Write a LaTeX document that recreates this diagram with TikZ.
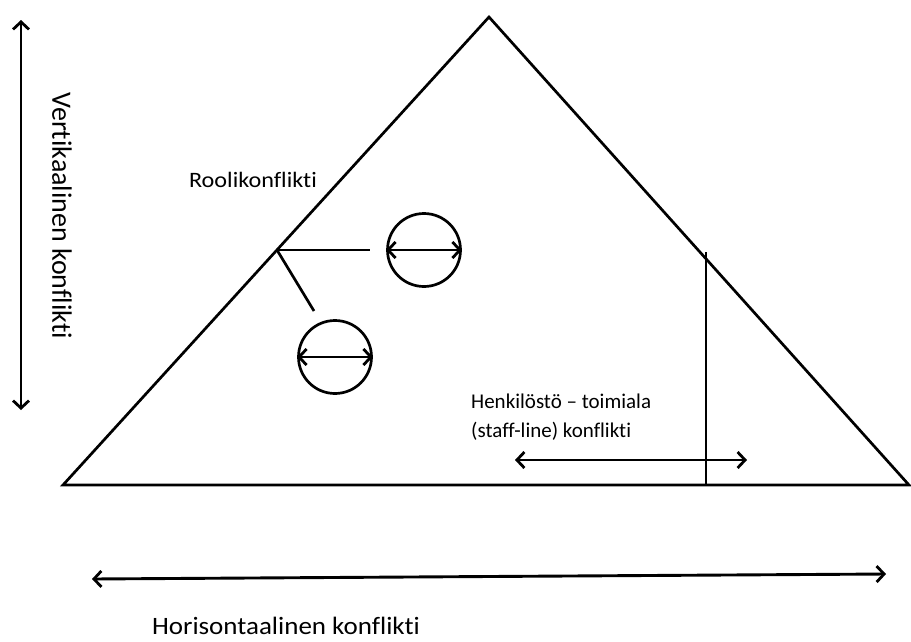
\documentclass[tikz,border=0pt]{standalone}
\usepackage{fontspec}
\setmainfont[RawFeature={-liga;-clig;-calt;-dlig}]{Carlito}
\usetikzlibrary{arrows.meta}
\begin{document}
\begin{tikzpicture}[x=1pt,y=-1pt,
  >={Straight Barb[length=7.5pt,width=16pt,line width=2.8pt]},
  line/.style={line width=2.7pt,black},
  dbl/.style={line width=2.9pt,<->},
  ring/.style={circle,draw,line width=2.7pt,minimum size=73pt,inner sep=0pt},
  lbl/.style={inner sep=0pt}]
\useasboundingbox (0,0) rectangle (911,641);
% pyramid
\coordinate (apex) at (489,17);
\coordinate (bl) at (63,485);
\coordinate (br) at (909,485);
\draw[line,line join=miter] (bl) -- (apex) -- (br) -- cycle;
% staff-line divider
\coordinate (st) at (706,252);
\coordinate (sb) at (706,485);
\draw[line] (st) -- (sb);
% role conflict branches
\coordinate (j) at (277,250);
\coordinate (jr) at (370,250);
\coordinate (jd) at (314,311);
\draw[line] (j) -- (jr);
\draw[line] (j) -- (jd);
\node[ring] (c1) at (424,250) {};
\node[ring] (c2) at (335,357) {};
\draw[dbl] (c1.west) -- (c1.east);
\draw[dbl] (c2.west) -- (c2.east);
% vertical axis
\coordinate (vt) at (21,20);
\coordinate (vb) at (21,410);
\draw[dbl] (vt) -- (vb);
\node[lbl,rotate=-90,font=\fontsize{28}{34}\selectfont] (vl) at (62,216) {Vertikaalinen konflikti};
% horizontal axis
\coordinate (hl) at (92,579);
\coordinate (hr) at (886,574);
\draw[dbl] (hl) -- (hr);
\node[lbl,anchor=base,xscale=1.08,font=\fontsize{25}{30}\selectfont] (hlab) at (286,634) {Horisontaalinen konflikti};
% staff-line arrow
\coordinate (sl) at (515,460);
\coordinate (sr) at (747,460);
\draw[dbl] (sl) -- (sr);
\node[lbl,anchor=base west,font=\fontsize{21}{25}\selectfont] (slab1) at (471,408) {Henkilöstö – toimiala};
\node[lbl,anchor=base west,font=\fontsize{21}{25}\selectfont] (slab2) at (471,437) {(staff-line) konflikti};
\node[lbl,anchor=base,xscale=1.1,font=\fontsize{22}{26}\selectfont] (rl) at (253,187) {Roolikonflikti};
\end{tikzpicture}
\end{document}
